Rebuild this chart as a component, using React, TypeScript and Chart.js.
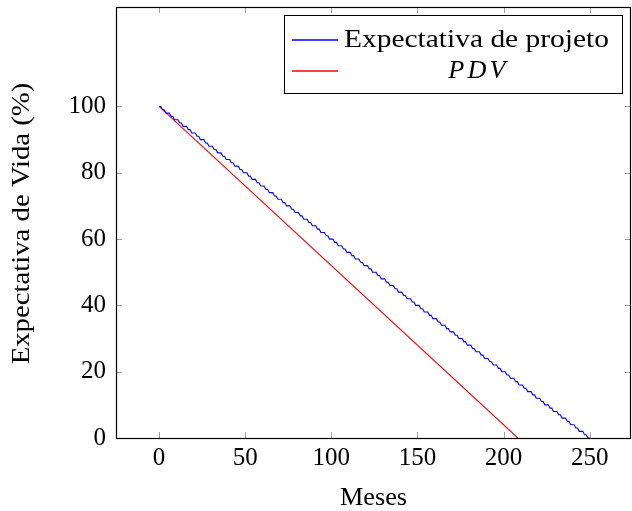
import React, { useEffect, useRef } from "react";
import { Chart, registerables } from "chart.js";

Chart.register(...registerables);

// Expectativa de projeto: monthly values (month index = position)
const projetoValues: number[] = [
  100, 100, 99, 99, 98, 98, 98, 97, 97, 96,
  96, 96, 95, 95, 94, 94, 94, 93, 93, 92,
  92, 92, 91, 91, 90, 90, 90, 89, 89, 88,
  88, 88, 87, 87, 86, 86, 86, 85, 85, 84,
  84, 84, 83, 83, 82, 82, 82, 81, 81, 80,
  80, 80, 79, 79, 78, 78, 78, 77, 77, 76,
  76, 76, 75, 75, 74, 74, 74, 73, 73, 72,
  72, 72, 71, 71, 70, 70, 70, 69, 69, 68,
  68, 68, 67, 67, 66, 66, 66, 65, 65, 64,
  64, 64, 63, 63, 62, 62, 62, 61, 61, 60,
  60, 60, 59, 59, 58, 58, 58, 57, 57, 56,
  56, 56, 55, 55, 54, 54, 54, 53, 53, 52,
  52, 52, 51, 51, 50, 50, 50, 49, 49, 48,
  48, 48, 47, 47, 46, 46, 46, 45, 45, 44,
  44, 44, 43, 43, 42, 42, 42, 41, 41, 40,
  40, 40, 39, 39, 38, 38, 38, 37, 37, 36,
  36, 36, 35, 35, 34, 34, 34, 33, 33, 32,
  32, 32, 31, 31, 30, 30, 30, 29, 29, 28,
  28, 28, 27, 27, 26, 26, 26, 25, 25, 24,
  24, 24, 23, 23, 22, 22, 22, 21, 21, 20,
  20, 20, 19, 19, 18, 18, 18, 17, 17, 16,
  16, 16, 15, 15, 14, 14, 14, 13, 13, 12,
  12, 12, 11, 11, 10, 10, 10, 9, 9, 8,
  8, 8, 7, 7, 6, 6, 6, 5, 5, 4,
  4, 4, 3, 3, 2, 2, 2, 1, 1, 0,
  0,
];

// PDV: straight line
const pdvMonths: number[] = [0, 208.3];
const pdvValues: number[] = [100, 0];

const xTicks: number[] = [0, 50, 100, 150, 200, 250];
const yTicks: number[] = [0, 20, 40, 60, 80, 100];

const seriesLabels: string[] = ["Expectativa de projeto", "PDV"];
const seriesColors: string[] = ["#0000ff", "#ff0000"];
const xTitle = "Meses";
const yTitle = "Expectativa de Vida (%)";

const FONT = "'Liberation Serif', 'Times New Roman', serif";

function drawStretched(ctx: any, text: string, cx: number, cy: number, sx: number) {
  ctx.save();
  ctx.translate(cx, cy);
  ctx.scale(sx, 1);
  ctx.textAlign = "center";
  ctx.textBaseline = "middle";
  ctx.fillText(text, 0, 0);
  ctx.restore();
}

const framePlugin = {
  id: "pgfFrame",
  afterDraw(chart: any) {
    const { ctx, chartArea, scales } = chart;
    const { left, right, top, bottom } = chartArea;
    ctx.save();
    // tick marks (inside, mirrored)
    ctx.strokeStyle = "#a0a0a0";
    ctx.lineWidth = 1;
    const tl = 6;
    for (const v of yTicks) {
      const py = Math.round(scales.y.getPixelForValue(v)) + 0.5;
      ctx.beginPath();
      ctx.moveTo(left, py);
      ctx.lineTo(left + tl, py);
      ctx.moveTo(right, py);
      ctx.lineTo(right - tl, py);
      ctx.stroke();
    }
    for (const v of xTicks) {
      const px = Math.round(scales.x.getPixelForValue(v)) + 0.5;
      ctx.beginPath();
      ctx.moveTo(px, bottom);
      ctx.lineTo(px, bottom - tl);
      ctx.moveTo(px, top);
      ctx.lineTo(px, top + tl);
      ctx.stroke();
    }
    // frame
    ctx.strokeStyle = "#000";
    ctx.lineWidth = 1.2;
    ctx.strokeRect(Math.round(left) + 0.5, Math.round(top) + 0.5, Math.round(right - left) - 1, Math.round(bottom - top));

    // axis titles
    ctx.fillStyle = "#000";
    ctx.font = `25px ${FONT}`;
    drawStretched(ctx, xTitle, (left + right) / 2, bottom + 60, 1.05);
    ctx.save();
    ctx.translate(22, (top + bottom) / 2 + 1);
    ctx.rotate(-Math.PI / 2);
    drawStretched(ctx, yTitle, 0, 0, 1.15);
    ctx.restore();

    // legend
    ctx.font = `25px ${FONT}`;
    const rawW = ctx.measureText(seriesLabels[0]).width;
    const textW = 265;
    const sx = textW / rawW;
    const lineLen = 46;
    const boxRight = right - 9;
    const boxTop = top + 8;
    const boxW = 9 + lineLen + 5 + textW + 13;
    const boxH = 78;
    const boxLeft = boxRight - boxW;
    ctx.fillStyle = "#fff";
    ctx.fillRect(boxLeft, boxTop, boxW, boxH);
    ctx.strokeStyle = "#000";
    ctx.lineWidth = 1;
    ctx.strokeRect(Math.round(boxLeft) + 0.5, Math.round(boxTop) + 0.5, Math.round(boxW), Math.round(boxH));
    const rows = [Math.round(boxTop) + 25, Math.round(boxTop) + 56];
    const textLeft = boxLeft + 9 + lineLen + 5;
    for (let i = 0; i < 2; i++) {
      const ly = rows[i];
      ctx.beginPath();
      ctx.strokeStyle = seriesColors[i];
      ctx.lineWidth = 1.3;
      ctx.moveTo(Math.round(boxLeft) + 8, ly);
      ctx.lineTo(Math.round(boxLeft) + 8 + lineLen, ly);
      ctx.stroke();
    }
    ctx.fillStyle = "#000";
    ctx.font = `25px ${FONT}`;
    drawStretched(ctx, seriesLabels[0], textLeft + textW / 2, rows[0], sx);
    ctx.font = `italic 25px ${FONT}`;
    (ctx as any).letterSpacing = "3px";
    drawStretched(ctx, seriesLabels[1], textLeft + textW / 2 + 2, rows[1], 1.05);
    (ctx as any).letterSpacing = "0px";
    ctx.restore();
  },
};

export default function App() {
  const ref = useRef<HTMLCanvasElement | null>(null);
  useEffect(() => {
    if (!ref.current) return;
    const chart = new Chart(ref.current, {
      type: "line",
      data: {
        datasets: [
          {
            label: seriesLabels[0],
            data: projetoValues.map((v, i) => ({ x: i, y: v })),
            borderColor: seriesColors[0],
            borderWidth: 1.1,
            pointRadius: 0,
            tension: 0,
            fill: false,
          },
          {
            label: seriesLabels[1],
            data: pdvMonths.map((m, i) => ({ x: m, y: pdvValues[i] })),
            borderColor: seriesColors[1],
            borderWidth: 1.1,
            pointRadius: 0,
            tension: 0,
            fill: false,
          },
        ],
      },
      options: {
        animation: false,
        responsive: false,
        maintainAspectRatio: false,
        layout: { padding: { top: 7, right: 1, left: 0, bottom: 0 } },
        plugins: { legend: { display: false }, tooltip: { enabled: false } },
        scales: {
          x: {
            type: "linear",
            min: -25,
            max: 274,
            afterBuildTicks: (s: any) => {
              s.ticks = xTicks.map((v) => ({ value: v }));
            },
            afterFit: (s: any) => {
              s.height = 73;
              s.paddingLeft = 0;
              s.paddingRight = 0;
            },
            grid: { display: false, drawTicks: false },
            border: { display: false },
            ticks: {
              padding: 5,
              color: "#000",
              maxRotation: 0,
              font: { family: FONT, size: 25 },
            },
            title: { display: false },
          },
          y: {
            type: "linear",
            min: 0,
            max: 130,
            afterBuildTicks: (s: any) => {
              s.ticks = yTicks.map((v) => ({ value: v }));
            },
            afterFit: (s: any) => {
              s.width = 116;
              s.paddingTop = 0;
              s.paddingBottom = 0;
            },
            grid: { display: false, drawTicks: false },
            border: { display: false },
            ticks: {
              padding: 10,
              color: "#000",
              font: { family: FONT, size: 25 },
            },
            title: { display: false },
          },
        },
      },
      plugins: [framePlugin],
    } as any);
    return () => chart.destroy();
  }, []);
  return (
    <div style={{ position: "absolute", left: 0, top: 0, width: 632, height: 511, background: "#fff" }}>
      <canvas ref={ref} width={632} height={511} style={{ width: 632, height: 511, display: "block" }} />
    </div>
  );
}
